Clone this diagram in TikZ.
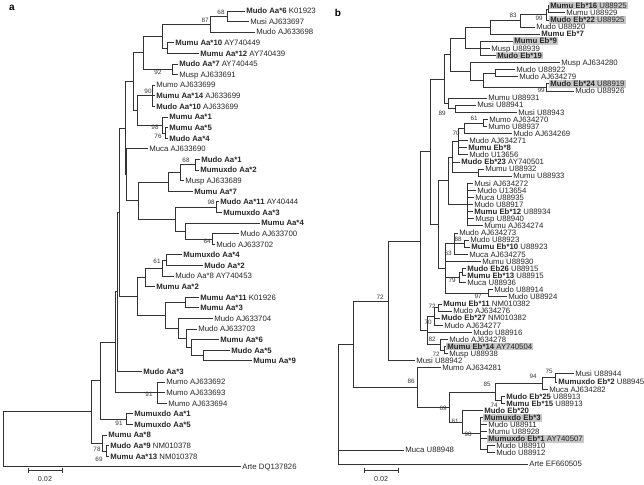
\documentclass[tikz,border=0pt]{standalone}
\usepackage{fontspec}
\setmainfont{Liberation Sans}
\usetikzlibrary{calc}
\tikzset{
  lab/.style={anchor=west,font=\fontsize{7.8}{8}\selectfont,inner xsep=1.2pt,inner ysep=1pt,text height=5.6pt,text depth=0pt,text=black!85},
  shd/.style={fill=black!22},
  br/.style={draw=black!80,line width=0.7pt},
  bs/.style={font=\fontsize{6.3}{6.3}\selectfont,inner sep=0pt,text=black!80},
  sc/.style={font=\fontsize{7.2}{7.2}\selectfont,inner sep=0pt,text=black!80},
  panel/.style={font=\fontsize{10}{10}\selectfont\bfseries,inner sep=0pt}
}
\newcommand\Lf[5][]{\node[lab,#1] (#2) at (#3,#4) {#5};}
\newcommand\N[4]{\path let \p1=(#3),\p2=(#4) in ({#2pt},{(\y1+\y2)/2}) coordinate (#1);}
\newcommand\Ch[2]{\foreach \c in {#2} {\draw[br] (#1) |- (\c);}}
\begin{document}
\begin{tikzpicture}[x=1pt,y=-1pt]
\useasboundingbox (0,0) rectangle (644,484);
\node[panel] (pa) at (12,8) {a};
\node[panel] (pb) at (338,13) {b};
% ---------------- panel a leaves
\Lf{a1}{245}{11.0}{\textbf{Mudo Aa*6} K01923}
\Lf{a2}{249}{21.6}{Musi AJ633697}
\Lf{a3}{255}{32.2}{Mudo AJ633698}
\Lf{a4}{174}{42.8}{\textbf{Mumu Aa*10} AY740449}
\Lf{a5}{199}{53.4}{\textbf{Mumu Aa*12} AY740439}
\Lf{a6}{178}{64.0}{\textbf{Mudo Aa*7} AY740445}
\Lf{a7}{178}{74.6}{Musp AJ633691}
\Lf{a8}{155}{85.2}{Mumo AJ633699}
\Lf{a9}{155}{95.8}{\textbf{Mumu Aa*14} AJ633699}
\Lf{a10}{155}{106.4}{\textbf{Mudo Aa*10} AJ633699}
\Lf{a11}{168}{117.0}{\textbf{Mumu Aa*1}}
\Lf{a12}{168}{127.6}{\textbf{Mumu Aa*5}}
\Lf{a13}{168}{138.2}{\textbf{Mudo Aa*4}}
\Lf{a14}{148}{148.8}{Muca AJ633690}
\Lf{a15}{200}{159.4}{\textbf{Mudo Aa*1}}
\Lf{a16}{199}{170.0}{\textbf{Mumuxdo Aa*2}}
\Lf{a17}{184}{180.6}{Musp AJ633689}
\Lf{a18}{193}{191.2}{\textbf{Mumu Aa*7}}
\Lf{a19}{219}{201.8}{\textbf{Mudo Aa*11} AY40444}
\Lf{a20}{222}{212.4}{\textbf{Mumuxdo Aa*3}}
\Lf{a21}{260}{223.0}{\textbf{Mumu Aa*4}}
\Lf{a22}{239}{233.6}{Mudo AJ633700}
\Lf{a23}{215}{244.2}{Mudo AJ633702}
\Lf{a24}{182}{254.8}{\textbf{Mumuxdo Aa*4}}
\Lf{a25}{203}{265.4}{\textbf{Mudo Aa*2}}
\Lf{a26}{174}{276.0}{Mudo Aa*8 AY740453}
\Lf{a27}{155}{286.6}{\textbf{Mumu Aa*2}}
\Lf{a28}{199}{297.2}{\textbf{Mumu Aa*11} K01926}
\Lf{a29}{199}{307.8}{\textbf{Mumu Aa*3}}
\Lf{a30}{213}{318.4}{Mudo AJ633704}
\Lf{a31}{197}{329.0}{Mudo AJ633703}
\Lf{a32}{219}{339.6}{\textbf{Mumu Aa*6}}
\Lf{a33}{230}{350.2}{\textbf{Mudo Aa*5}}
\Lf{a34}{252}{360.8}{\textbf{Mumu Aa*9}}
\Lf{a35}{142}{371.4}{\textbf{Mudo Aa*3}}
\Lf{a36}{165}{382.0}{Mumo AJ633692}
\Lf{a37}{165}{392.6}{Mumo AJ633693}
\Lf{a38}{167}{403.2}{Mumo AJ633694}
\Lf{a39}{133}{413.8}{\textbf{Mumuxdo Aa*1}}
\Lf{a40}{133}{424.4}{\textbf{Mumuxdo Aa*5}}
\Lf{a41}{107}{435.0}{\textbf{Mumu Aa*8}}
\Lf{a42}{109}{445.6}{\textbf{Mudo Aa*9} NM010378}
\Lf{a43}{109}{456.2}{\textbf{Mumu Aa*13} NM010378}
\Lf{a44}{241}{466.8}{Arte DQ137826}
% ---------------- panel a internal nodes
\N{n12}{227}{a1}{a2}
\N{n123}{210}{n12}{a3}
\N{n45}{167}{a4}{a5}
\N{n15}{162}{n123}{n45}
\N{n67}{172}{a6}{a7}
\N{nT}{143}{n15}{n67}
\N{n810}{152}{a8}{a10}
\N{n1213}{165}{a12}{a13}
\N{n1113}{162}{a11}{n1213}
\N{nB}{137}{n810}{n1113}
\N{nC}{133}{nT}{nB}
\N{n1516}{195}{a15}{a16}
\N{n1517}{180}{n1516}{a17}
\N{nE}{168}{n1517}{a18}
\N{n1920}{216}{a19}{a20}
\N{n2223}{212}{a22}{a23}
\N{n2123}{185}{a21}{n2223}
\N{nF}{175}{n1920}{n2123}
\N{nD}{138}{nE}{nF}
\N{nGa}{126}{a14}{nD}
\N{nG1}{125}{nC}{nGa}
\N{n2425}{166}{a24}{a25}
\N{n2426}{162}{n2425}{a26}
\N{n2427}{145}{n2426}{a27}
\N{n2829}{185}{a28}{a29}
\N{n3334}{203}{a33}{a34}
\N{n3234}{191}{a32}{n3334}
\N{n3134}{186}{a31}{n3234}
\N{n3034}{178}{a30}{n3134}
\N{nQ}{165}{n2829}{n3034}
\N{nP}{137}{n2427}{nQ}
\N{nG2}{119}{nG1}{nP}
\N{nG3}{117}{nG2}{a35}
\N{n3638}{157}{a36}{a38}
\N{nG4}{115}{nG3}{n3638}
\N{n3940}{126}{a39}{a40}
\N{nG5}{100}{nG4}{n3940}
\N{n4243}{106}{a42}{a43}
\N{n4143}{102}{a41}{n4243}
\N{nG6}{91}{nG5}{n4143}
\N{nR}{3}{nG6}{a44}
% ---------------- panel a branches
\Ch{n12}{a1.west,a2.west}
\Ch{n123}{n12,a3.west}
\Ch{n45}{a4.west,a5.west}
\Ch{n15}{n123,n45}
\Ch{n67}{a6.west,a7.west}
\Ch{nT}{n15,n67}
\Ch{n810}{a8.west,a9.west,a10.west}
\Ch{n1213}{a12.west,a13.west}
\Ch{n1113}{a11.west,n1213}
\Ch{nB}{n810,n1113}
\Ch{nC}{nT,nB}
\Ch{n1516}{a15.west,a16.west}
\Ch{n1517}{n1516,a17.west}
\Ch{nE}{n1517,a18.west}
\Ch{n1920}{a19.west,a20.west}
\Ch{n2223}{a22.west,a23.west}
\Ch{n2123}{a21.west,n2223}
\Ch{nF}{n1920,n2123}
\Ch{nD}{nE,nF}
\Ch{nGa}{a14.west,nD}
\Ch{nG1}{nC,nGa}
\Ch{n2425}{a24.west,a25.west}
\Ch{n2426}{n2425,a26.west}
\Ch{n2427}{n2426,a27.west}
\Ch{n2829}{a28.west,a29.west}
\Ch{n3334}{a33.west,a34.west}
\Ch{n3234}{a32.west,n3334}
\Ch{n3134}{a31.west,n3234}
\Ch{n3034}{a30.west,n3134}
\Ch{nQ}{n2829,n3034}
\Ch{nP}{n2427,nQ}
\Ch{nG2}{nG1,nP}
\Ch{nG3}{nG2,a35.west}
\Ch{n3638}{a36.west,a37.west,a38.west}
\Ch{nG4}{nG3,n3638}
\Ch{n3940}{a39.west,a40.west}
\Ch{nG5}{nG4,n3940}
\Ch{n4243}{a42.west,a43.west}
\Ch{n4143}{a41.west,n4243}
\Ch{nG6}{nG5,n4143}
\Ch{nR}{nG6,a44.west}
% ---------------- panel a support values
\node[bs] (sa1) at (221,12) {68};
\node[bs] (sa2) at (205,20) {87};
\node[bs] (sa3) at (158,72) {92};
\node[bs] (sa4) at (148,91) {90};
\node[bs] (sa5) at (155,127.5) {98};
\node[bs] (sa6) at (158,136.5) {76};
\node[bs] (sa7) at (186,160) {68};
\node[bs] (sa8) at (211,202.5) {98};
\node[bs] (sa9) at (207,241) {64};
\node[bs] (sa10) at (157,261) {61};
\node[bs] (sa11) at (149,394) {91};
\node[bs] (sa12) at (119,423) {91};
\node[bs] (sa13) at (97,449) {78};
\node[bs] (sa14) at (99,459) {69};
% scale bar a
\coordinate (sa0) at (28,470);
\coordinate (sa9x) at (62,470);
\draw[br] (sa0) -- (sa9x);
\draw[br] ($(sa0)+(0,-2.5)$) -- ($(sa0)+(0,2.5)$);
\draw[br] ($(sa9x)+(0,-2.5)$) -- ($(sa9x)+(0,2.5)$);
\node[sc] (sat) at (45,479) {0.02};
% ---------------- panel b leaves
\Lf[shd]{b1}{549}{5.7}{\textbf{Mumu Eb*16} U88925}
\Lf{b2}{565}{12.8}{Mumu U88929}
\Lf[shd]{b3}{549}{19.9}{\textbf{Mudo Eb*22} U88925}
\Lf{b4}{535}{27.0}{Mudo U88920}
\Lf{b5}{540}{34.1}{\textbf{Mumu Eb*7}}
\Lf[shd]{b6}{513}{41.2}{\textbf{Mumu Eb*9}}
\Lf{b7}{490}{48.3}{Musp U88939}
\Lf[shd]{b8}{496}{55.4}{\textbf{Mudo Eb*19}}
\Lf{b9}{560}{62.5}{Musp AJ634280}
\Lf{b10}{515}{69.6}{Mudo U88922}
\Lf{b11}{518}{76.7}{Mudo AJ634279}
\Lf[shd]{b12}{549}{83.8}{\textbf{Mudo Eb*24} U88919}
\Lf{b13}{574}{90.9}{Mudo U88926}
\Lf{b14}{487}{98.0}{Mumu U88931}
\Lf{b15}{476}{105.1}{Musi U88941}
\Lf{b16}{517}{112.2}{Musi U88943}
\Lf{b17}{488}{119.3}{Mumo AJ634270}
\Lf{b18}{487}{126.4}{Mumo U88937}
\Lf{b19}{512}{133.5}{Mudo AJ634269}
\Lf{b20}{468}{140.6}{Mudo AJ634271}
\Lf{b21}{467}{147.7}{\textbf{Mumu Eb*8}}
\Lf{b22}{468}{154.8}{Mudo U13656}
\Lf{b23}{460}{161.9}{\textbf{Mudo Eb*23} AY740501}
\Lf{b24}{484}{169.0}{Mumu U88932}
\Lf{b25}{512}{176.1}{Mumu U88933}
\Lf{b26}{473}{183.2}{Musi AJ634272}
\Lf{b27}{476}{190.3}{Mudo U13654}
\Lf{b28}{474}{197.4}{Muca U88935}
\Lf{b29}{473}{204.5}{Mudo U88917}
\Lf{b30}{473}{211.6}{\textbf{Mumu Eb*12} U88934}
\Lf{b31}{474}{218.7}{Musp U88940}
\Lf{b32}{483}{225.8}{Mumu AJ634274}
\Lf{b33}{458}{232.9}{Mudo AJ634273}
\Lf{b34}{469}{240.0}{Mudo U88923}
\Lf{b35}{470}{247.1}{\textbf{Mumu Eb*10} U88923}
\Lf{b36}{468}{254.2}{Muca AJ634275}
\Lf{b37}{481}{261.3}{Mumu U88930}
\Lf{b38}{466}{268.4}{\textbf{Mudo Eb26} U88915}
\Lf{b39}{466}{275.5}{\textbf{Mumu Eb*13} U88915}
\Lf{b40}{466}{282.6}{Muca U88936}
\Lf{b41}{493}{289.7}{Mudo U88914}
\Lf{b42}{507}{296.8}{Mudo U88924}
\Lf{b43}{442}{303.9}{\textbf{Mumu Eb*11} NM010382}
\Lf{b44}{452}{311.0}{Mudo AJ634276}
\Lf{b45}{440}{318.1}{\textbf{Mudo Eb*27} NM010382}
\Lf{b46}{443}{325.2}{Mudo AJ634277}
\Lf{b47}{472}{332.3}{Mudo U88916}
\Lf{b48}{448}{339.4}{Mudo AJ634278}
\Lf[shd]{b49}{446}{346.5}{\textbf{Mumu Eb*14} AY740504}
\Lf{b50}{448}{353.6}{Musp U88938}
\Lf{b51}{415}{360.7}{Musi U88942}
\Lf{b52}{441}{367.8}{Mumo AJ634281}
\Lf{b53}{574}{373.5}{Musi U88944}
\Lf{b54}{557}{382.0}{\textbf{Mumuxdo Eb*2} U88945}
\Lf{b55}{548}{389.8}{Muca AJ634282}
\Lf{b56}{505}{396.8}{\textbf{Mudo Eb*25} U88913}
\Lf{b57}{505}{403.8}{\textbf{Mumu Eb*15} U88913}
\Lf{b58}{483}{410.8}{\textbf{Mudo Eb*20}}
\Lf[shd]{b59}{483}{417.8}{\textbf{Mumuxdo Eb*3}}
\Lf{b60}{487}{424.8}{Mudo U88911}
\Lf{b61}{487}{431.8}{Mumu U88928}
\Lf[shd]{b62}{487}{438.8}{\textbf{Mumuxdo Eb*1} AY740507}
\Lf{b63}{495}{445.8}{Mudo U88910}
\Lf{b64}{495}{452.8}{Mudo U88912}
\Lf{b65}{404}{450}{Muca U88948}
\Lf{b66}{528}{464}{Arte EF660505}
% ---------------- panel b internal nodes
\N{c12}{548}{b1}{b2}
\N{c13}{546}{c12}{b3}
\N{c14}{520}{c13}{b4}
\N{c15}{490}{c14}{b5}
\N{c68}{480}{b6}{b8}
\N{cT1}{465}{c15}{c68}
\N{c1011}{495}{b10}{b11}
\N{c1213}{546}{b12}{b13}
\N{c1013}{483}{c1011}{c1213}
\N{c913}{470}{b9}{c1013}
\N{cA}{450}{cT1}{c913}
\N{c1516}{455}{b15}{b16}
\N{c1416}{448}{b14}{c1516}
\N{cB}{444}{cA}{c1416}
\N{c1718}{483}{b17}{b18}
\N{c1719}{464}{c1718}{b19}
\N{c1722}{458}{c1719}{b22}
\N{c2425}{478}{b24}{b25}
\N{c1725}{452}{c1722}{c2425}
\N{c2632}{467}{b26}{b32}
\N{c1732}{448}{c1725}{c2632}
\N{c3435}{464}{b34}{b35}
\N{c3336}{454}{b33}{b36}
\N{c3839}{462}{b38}{b39}
\N{c3840}{459}{c3839}{b40}
\N{c4142}{488}{b41}{b42}
\N{c3342}{445}{c3336}{c4142}
\N{cMid}{438}{c1732}{c3342}
\N{cUp}{430}{cB}{cMid}
\N{c4344}{438}{b43}{b44}
\N{c4346}{434}{c4344}{b46}
\N{c4950}{444}{b49}{b50}
\N{c4850}{440}{b48}{c4950}
\N{c4350}{427}{c4346}{c4850}
\N{cU}{420}{cUp}{c4350}
\N{c72}{388}{cU}{b51}
\N{c5354}{555}{b53}{b54}
\N{c5355}{542}{c5354}{b55}
\N{c5657}{501}{b56}{b57}
\N{c5357}{495}{c5355}{c5657}
\N{c6364}{487}{b63}{b64}
\N{c5964}{480}{b59}{c6364}
\N{c5864}{462}{b58}{c5964}
\N{c69}{449}{c5357}{c5864}
\N{c86}{417}{b52}{c69}
\N{cT}{353}{c72}{c86}
\N{cR}{338}{cT}{b66}
% ---------------- panel b branches
\Ch{c12}{b1.west,b2.west}
\Ch{c13}{c12,b3.west}
\Ch{c14}{c13,b4.west}
\Ch{c15}{c14,b5.west}
\Ch{c68}{b6.west,b7.west,b8.west}
\Ch{cT1}{c15,c68}
\Ch{c1011}{b10.west,b11.west}
\Ch{c1213}{b12.west,b13.west}
\Ch{c1013}{c1011,c1213}
\Ch{c913}{b9.west,c1013}
\Ch{cA}{cT1,c913}
\Ch{c1516}{b15.west,b16.west}
\Ch{c1416}{b14.west,c1516}
\Ch{cB}{cA,c1416}
\Ch{c1718}{b17.west,b18.west}
\Ch{c1719}{c1718,b19.west}
\Ch{c1722}{c1719,b20.west,b21.west,b22.west}
\Ch{c2425}{b24.west,b25.west}
\Ch{c1725}{c1722,b23.west,c2425}
\Ch{c2632}{b26.west,b27.west,b28.west,b29.west,b30.west,b31.west,b32.west}
\Ch{c1732}{c1725,c2632}
\Ch{c3435}{b34.west,b35.west}
\Ch{c3336}{b33.west,c3435,b36.west}
\Ch{c3839}{b38.west,b39.west}
\Ch{c3840}{c3839,b40.west}
\Ch{c4142}{b41.west,b42.west}
\Ch{c3342}{c3336,b37.west,c3840,c4142}
\Ch{cMid}{c1732,c3342}
\Ch{cUp}{cB,cMid}
\Ch{c4344}{b43.west,b44.west}
\Ch{c4346}{c4344,b45.west,b46.west}
\Ch{c4950}{b49.west,b50.west}
\Ch{c4850}{b48.west,c4950}
\Ch{c4350}{c4346,b47.west,c4850}
\Ch{cU}{cUp,c4350}
\Ch{c72}{cU,b51.west}
\Ch{c5354}{b53.west,b54.west}
\Ch{c5355}{c5354,b55.west}
\Ch{c5657}{b56.west,b57.west}
\Ch{c5357}{c5355,c5657}
\Ch{c6364}{b63.west,b64.west}
\Ch{c5964}{b59.west,b60.west,b61.west,b62.west,c6364}
\Ch{c5864}{b58.west,c5964}
\Ch{c69}{c5357,c5864}
\Ch{c86}{b52.west,c69}
\Ch{cT}{c72,c86}
\Ch{cR}{cT,b65.west,b66.west}
% ---------------- panel b support values
\node[bs] (sb1) at (513,15.5) {83};
\node[bs] (sb2) at (539,18) {99};
\node[bs] (sb3) at (541,90.5) {99};
\node[bs] (sb4) at (442,113) {89};
\node[bs] (sb5) at (474,118) {61};
\node[bs] (sb6) at (456,133) {70};
\node[bs] (sb7) at (458,239) {88};
\node[bs] (sb8) at (448,253) {63};
\node[bs] (sb9) at (452,280) {79};
\node[bs] (sb10) at (478,296.5) {97};
\node[bs] (sb11) at (380,297) {72};
\node[bs] (sb12) at (432,306) {72};
\node[bs] (sb13) at (428,322) {70};
\node[bs] (sb14) at (432,339) {82};
\node[bs] (sb15) at (436,354) {72};
\node[bs] (sb16) at (411,381) {86};
\node[bs] (sb17) at (487,384) {85};
\node[bs] (sb18) at (533,376.5) {94};
\node[bs] (sb19) at (549,371) {75};
\node[bs] (sb20) at (494,405) {74};
\node[bs] (sb21) at (443,408) {69};
\node[bs] (sb22) at (455,421) {61};
\node[bs] (sb23) at (468,434) {90};
% scale bar b
\coordinate (sb0) at (364,470);
\coordinate (sb9x) at (398,470);
\draw[br] (sb0) -- (sb9x);
\draw[br] ($(sb0)+(0,-2.5)$) -- ($(sb0)+(0,2.5)$);
\draw[br] ($(sb9x)+(0,-2.5)$) -- ($(sb9x)+(0,2.5)$);
\node[sc] (sbt) at (381,479) {0.02};
\end{tikzpicture}
\end{document}
